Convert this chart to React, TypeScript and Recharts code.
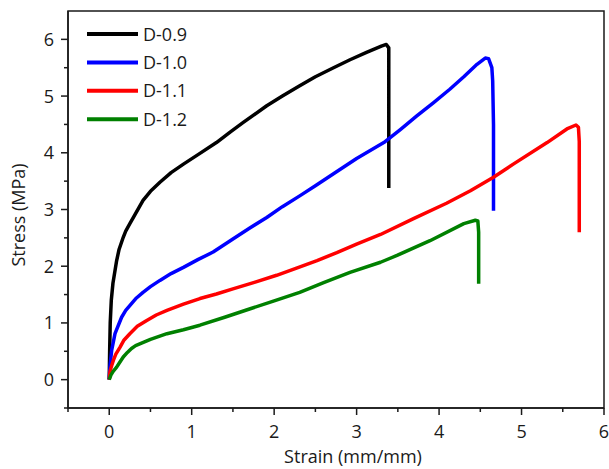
import React from 'react';
import { LineChart, Line, XAxis, YAxis, ReferenceArea, Legend } from 'recharts';

const FONT = '"Open Sans", "Noto Sans", sans-serif';
const INK = '#1a1a1a';
const FS = 18;

const seriesNames = ['D-0.9', 'D-1.0', 'D-1.1', 'D-1.2'];
const seriesColors = ['#000000', '#0000ff', '#ff0000', '#008000'];

// Strain (mm/mm) and stress (MPa) for each specimen
const strainD09 = [0, 0.005, 0.012, 0.025, 0.045, 0.09, 0.12, 0.17, 0.2, 0.25, 0.3, 0.41, 0.5, 0.615, 0.75, 0.9, 1.1, 1.3, 1.47, 1.63, 1.91, 2.1, 2.31, 2.5, 2.72, 2.92, 3.12, 3.3, 3.36, 3.39, 3.39];
const stressD09 = [0, 0.5, 1.0, 1.4, 1.7, 2.1, 2.3, 2.51, 2.62, 2.75, 2.88, 3.16, 3.32, 3.48, 3.65, 3.8, 3.99, 4.18, 4.37, 4.54, 4.83, 5.0, 5.18, 5.34, 5.5, 5.64, 5.77, 5.88, 5.91, 5.85, 3.38];

const strainD10 = [0, 0.01, 0.03, 0.07, 0.15, 0.2, 0.27, 0.33, 0.41, 0.5, 0.615, 0.75, 0.9, 1.08, 1.26, 1.5, 1.7, 1.91, 2.1, 2.31, 2.5, 2.72, 3.0, 3.33, 3.53, 3.73, 3.93, 4.13, 4.3, 4.46, 4.56, 4.6, 4.64, 4.65, 4.66, 4.66];
const stressD10 = [0, 0.25, 0.52, 0.81, 1.1, 1.22, 1.34, 1.44, 1.54, 1.64, 1.75, 1.87, 1.98, 2.12, 2.25, 2.48, 2.67, 2.86, 3.05, 3.24, 3.42, 3.63, 3.9, 4.18, 4.41, 4.65, 4.88, 5.12, 5.34, 5.56, 5.67, 5.66, 5.5, 5.27, 4.5, 2.98];

const strainD11 = [0, 0.01, 0.03, 0.05, 0.08, 0.13, 0.18, 0.25, 0.34, 0.45, 0.57, 0.7, 0.9, 1.1, 1.3, 1.5, 1.77, 2.03, 2.28, 2.52, 2.76, 3.0, 3.29, 3.69, 4.09, 4.38, 4.66, 4.9, 5.31, 5.55, 5.66, 5.69, 5.7, 5.7];
const stressD11 = [0, 0.15, 0.25, 0.34, 0.45, 0.57, 0.7, 0.81, 0.94, 1.04, 1.14, 1.22, 1.33, 1.43, 1.51, 1.6, 1.72, 1.84, 1.97, 2.1, 2.24, 2.39, 2.56, 2.84, 3.11, 3.33, 3.57, 3.8, 4.18, 4.42, 4.49, 4.45, 4.2, 2.6];

const strainD12 = [0, 0.02, 0.05, 0.09, 0.13, 0.17, 0.22, 0.27, 0.32, 0.37, 0.5, 0.7, 0.9, 1.1, 1.4, 1.71, 2.0, 2.31, 2.6, 2.92, 3.29, 3.49, 3.89, 4.3, 4.44, 4.47, 4.48, 4.48];
const stressD12 = [0, 0.08, 0.15, 0.22, 0.31, 0.4, 0.48, 0.55, 0.6, 0.63, 0.71, 0.81, 0.88, 0.96, 1.1, 1.25, 1.39, 1.54, 1.71, 1.89, 2.07, 2.19, 2.45, 2.75, 2.81, 2.8, 2.6, 1.69];

const xTicks = [-0.5, 0, 0.5, 1, 1.5, 2, 2.5, 3, 3.5, 4, 4.5, 5, 5.5, 6];
const yTicks = [-0.5, 0, 0.5, 1, 1.5, 2, 2.5, 3, 3.5, 4, 4.5, 5, 5.5, 6];

const toPoints = (strain: number[], stress: number[]) =>
  strain.map((s, i) => ({ strain: s, stress: stress[i] }));

const series = [
  toPoints(strainD09, stressD09),
  toPoints(strainD10, stressD10),
  toPoints(strainD11, stressD11),
  toPoints(strainD12, stressD12),
];

const XTick = (props: any) => {
  const { x, y, payload } = props;
  const v = payload.value as number;
  const major = Number.isInteger(v);
  return (
    <g>
      <line x1={x} x2={x} y1={y} y2={y + (major ? 7 : 4)} stroke={INK} strokeWidth={1.5} />
      {major && (
        <text x={x} y={y + 30} textAnchor="middle" fontFamily={FONT} fontSize={FS} fill={INK}>
          {v}
        </text>
      )}
    </g>
  );
};

const YTick = (props: any) => {
  const { x, y, payload } = props;
  const v = payload.value as number;
  const major = Number.isInteger(v);
  return (
    <g>
      <line x1={x - (major ? 7 : 4)} x2={x} y1={y} y2={y} stroke={INK} strokeWidth={1.5} />
      {major && (
        <text x={x - 14} y={y + 6.5} textAnchor="end" fontFamily={FONT} fontSize={FS} fill={INK}>
          {v}
        </text>
      )}
    </g>
  );
};

const LegendBox = (props: any) => {
  const payload = props.payload || [];
  return (
    <svg width={130} height={120} style={{ display: 'block' }}>
      {payload.map((item: any, i: number) => {
        const cy = 12 + i * 28.4;
        return (
          <g key={item.value}>
            <line x1={0} x2={51} y1={cy} y2={cy} stroke={item.color} strokeWidth={4} />
            <text x={56} y={cy + 6.5} fontFamily={FONT} fontSize={FS} fill={INK}>
              {item.value}
            </text>
          </g>
        );
      })}
    </svg>
  );
};

export default function App() {
  return (
    <div style={{ position: 'absolute', left: 0, top: 0, background: '#fff' }}>
      <LineChart width={609} height={469} margin={{ top: 11, right: 5, bottom: 0, left: 0 }}>
        <XAxis
          type="number"
          dataKey="strain"
          domain={[-0.5, 6]}
          ticks={xTicks}
          interval={0}
          allowDataOverflow
          height={61}
          tickSize={0}
          tickMargin={0}
          tickLine={false}
          axisLine={{ stroke: INK, strokeWidth: 1.5 }}
          tick={<XTick />}
          label={{
            content: () => (
              <text x={353} y={463} textAnchor="middle" fontFamily={FONT} fontSize={FS} fill={INK}>
                Strain (mm/mm)
              </text>
            ),
          }}
        />
        <YAxis
          type="number"
          domain={[-0.5, 6.5]}
          ticks={yTicks}
          interval={0}
          allowDataOverflow
          width={68}
          tickSize={0}
          tickMargin={0}
          tickLine={false}
          axisLine={{ stroke: INK, strokeWidth: 1.5 }}
          tick={<YTick />}
          label={{
            content: () => (
              <text
                x={25}
                y={215}
                textAnchor="middle"
                transform="rotate(-90, 25, 215)"
                fontFamily={FONT}
                fontSize={FS}
                fill={INK}
              >
                Stress (MPa)
              </text>
            ),
          }}
        />
        <ReferenceArea
          x1={-0.5}
          x2={6}
          y1={-0.5}
          y2={6.5}
          fill="none"
          stroke={INK}
          strokeWidth={1.5}
          ifOverflow="visible"
        />
        {series.map((data, i) => (
          <Line
            key={seriesNames[i]}
            data={data}
            dataKey="stress"
            name={seriesNames[i]}
            type="linear"
            stroke={seriesColors[i]}
            strokeWidth={3.5}
            strokeLinejoin="round"
            dot={false}
            activeDot={false}
            isAnimationActive={false}
          />
        ))}
        <Legend
          layout="vertical"
          align="center"
          verticalAlign="middle"
          wrapperStyle={{ left: 87, top: 22, width: 130, height: 120 }}
          content={<LegendBox />}
        />
      </LineChart>
    </div>
  );
}
